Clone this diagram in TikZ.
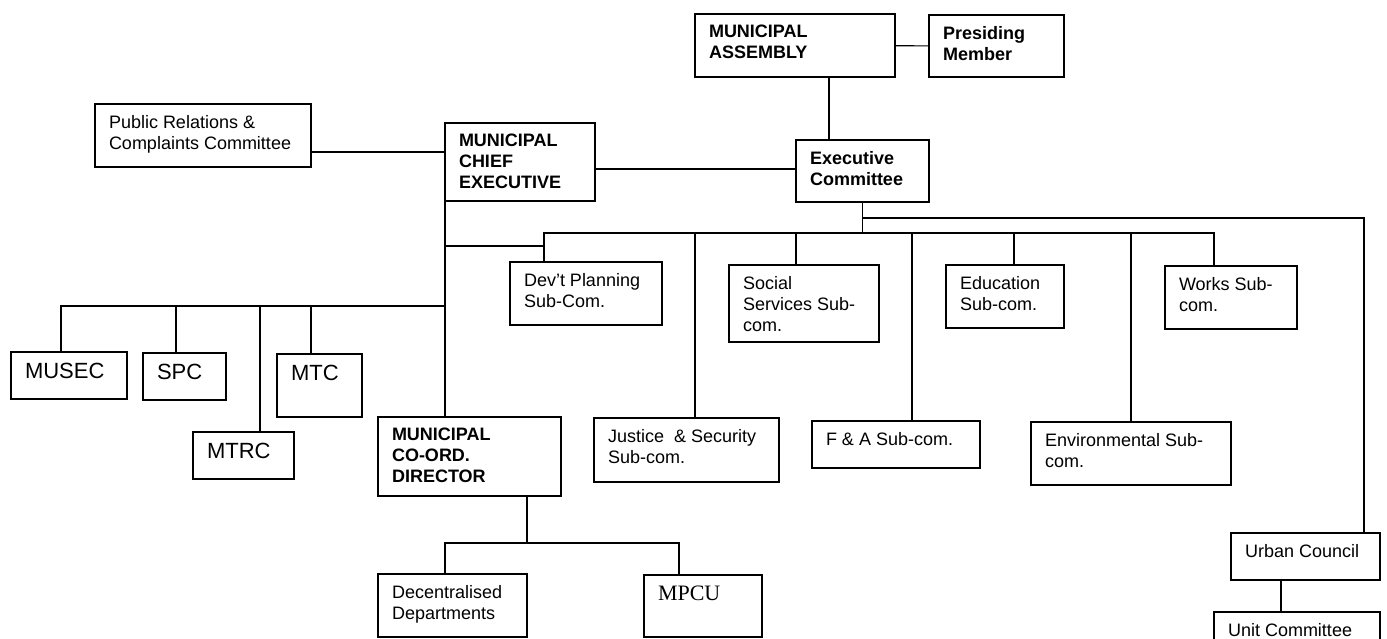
\documentclass[tikz,border=0pt]{standalone}
\usepackage{fontspec}
\setmainfont{Liberation Sans}
\newfontfamily\timesfam{Liberation Serif}

\newcommand{\cell}[3]{\parbox[c][#2][t]{#1}{\raggedright\leftskip=14pt\relax\vspace*{11pt}#3}}

\begin{document}
\begin{tikzpicture}[x=1pt, y=-1pt, line width=1.1pt, line cap=rect,
  unit/.style={draw, inner sep=0pt, outer sep=0pt, anchor=north west,
    font=\fontsize{18}{21}\selectfont},
  head/.style={unit, font=\fontsize{18}{21}\selectfont\bfseries},
  short/.style={unit, font=\fontsize{22}{25}\selectfont}]

\useasboundingbox (0,0) rectangle (1387,638);
\clip (0,0) rectangle (1387,638);

% top of the chart
\node[head] (ma) at (695,14) {\cell{200pt}{63pt}{MUNICIPAL\\ASSEMBLY}};
\node[head] (pm) at (929,15) {\cell{135pt}{62pt}{Presiding\\Member}};
\node[head] (exec) at (796,140) {\cell{133pt}{62pt}{Executive\\Committee}};
\node[unit] (pr) at (95,104) {\cell{216pt}{63pt}{Public Relations \&\\Complaints Committee}};
\node[head] (mce) at (445,123) {\cell{150pt}{78pt}{MUNICIPAL\\CHIEF\\EXECUTIVE}};

% sub-committees
\node[unit] (dev) at (510,262) {\cell{152pt}{63pt}{Dev't Planning\\Sub-Com.}};
\node[unit] (soc) at (729,265) {\cell{150pt}{77pt}{Social\\Services Sub-\\com.}};
\node[unit] (edu) at (946,265) {\cell{118pt}{63pt}{Education\\Sub-com.}};
\node[unit] (wks) at (1165,266) {\cell{132pt}{63pt}{Works Sub-\\com.}};
\node[unit] (jus) at (594,418) {\cell{185pt}{64pt}{Justice\ \ \& Security\\Sub-com.}};
\node[unit] (fa) at (812,421) {\cell{168pt}{47pt}{F \& A Sub-com.}};
\node[unit] (env) at (1031,422) {\cell{200pt}{63pt}{Environmental Sub-\\com.}};

% committees under the chief executive
\node[short] (musec) at (11,352) {\cell{116pt}{47pt}{MUSEC}};
\node[short] (spc) at (143,353) {\cell{83pt}{47pt}{SPC}};
\node[short] (mtc) at (277,354) {\cell{85pt}{63pt}{MTC}};
\node[short] (mtrc) at (193,432) {\cell{101pt}{47pt}{MTRC}};
\node[head] (mcd) at (378,417) {\cell{183pt}{79pt}{MUNICIPAL\\CO-ORD.\\DIRECTOR}};
\node[unit] (dec) at (378,574) {\cell{149pt}{63pt}{Decentralised\\Departments}};
\node[unit] (mpcu) at (644,575) {\cell{118pt}{62pt}{\timesfam\fontsize{22}{24}\selectfont MPCU}};

% urban side
\node[unit] (urban) at (1231,533) {\cell{149pt}{47pt}{Urban Council}};
\node[unit] (unit) at (1214,612) {\cell{166pt}{40pt}{Unit Committee}};

% junction points
\coordinate (aDrop) at (829,0);
\coordinate (prLine) at (0,152);
\coordinate (ceLine) at (0,169);
\coordinate (sDev) at (544,233);
\coordinate (sJus) at (695,233);
\coordinate (sSoc) at (796,233);
\coordinate (sFA) at (912,233);
\coordinate (sEdu) at (1014,233);
\coordinate (sEnv) at (1131,233);
\coordinate (sWks) at (1214,233);
\coordinate (uTurn) at (1364,218);
\coordinate (uDrop) at (1281,0);
\coordinate (mDev) at (544,246);
\coordinate (lMus) at (61,306);
\coordinate (lSpc) at (176,306);
\coordinate (lMtrc) at (260,306);
\coordinate (lMtc) at (311,306);
\coordinate (dMid) at (527,543);
\coordinate (dDec) at (445,543);
\coordinate (dMpc) at (679,543);

\draw (ma) -- (pm);
\draw (ma.south -| aDrop) -- (exec.north -| aDrop);
\draw (pr.east |- prLine) -- (mce.west |- prLine);
\draw (mce.east |- ceLine) -- (exec.west |- ceLine);

\draw (exec.south) -- (exec.south |- sDev);
\draw (sDev) -- (sWks);
\foreach \c/\n in {sDev/dev, sJus/jus, sSoc/soc, sFA/fa, sEdu/edu, sEnv/env, sWks/wks}
  \draw (\c) -- (\n.north -| \c);

\draw (exec.south |- uTurn) -- (uTurn) -- (urban.north -| uTurn);
\draw (urban.south -| uDrop) -- (unit.north -| uDrop);

\draw (mce.south west) -- (mcd.north -| mce.south west);
\draw (mce.south west |- mDev) -- (mDev);
\draw (lMus) -- (mce.south west |- lMus);
\foreach \c/\n in {lMus/musec, lSpc/spc, lMtrc/mtrc, lMtc/mtc}
  \draw (\c) -- (\n.north -| \c);

\draw (mcd.south -| dMid) -- (dMid);
\draw (dDec) -- (dMpc);
\draw (dDec) -- (dec.north -| dDec);
\draw (dMpc) -- (mpcu.north -| dMpc);

\end{tikzpicture}
\end{document}
